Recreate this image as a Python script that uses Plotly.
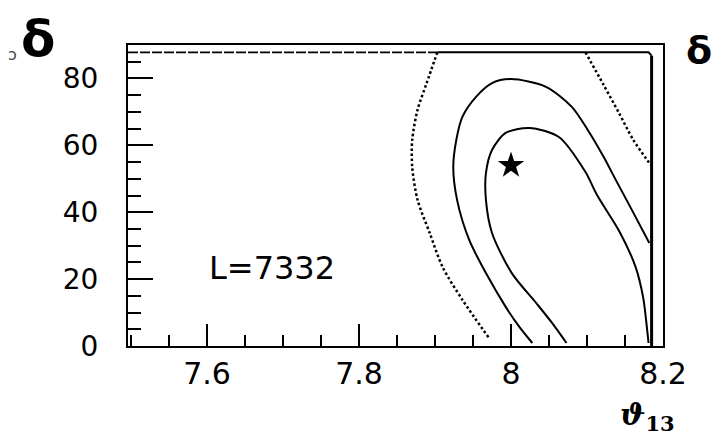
import plotly.graph_objects as go

# Axis ranges and ticks
theta_range = [7.496, 8.2]
delta_range = [0, 90]
theta_ticks = [7.6, 7.8, 8.0, 8.2]
theta_ticklabels = ["7.6", "7.8", "8", "8.2"]
delta_ticks = [0, 20, 40, 60, 80]
delta_ticklabels = ["0", "20", "40", "60", "80"]

# Edge of the scanned grid (contours close along it)
theta_edge = 8.185
delta_edge = 87.8

# Best-fit point
best_theta = [8.0]
best_delta = [54.0]

# Inner confidence contour (solid)
in_theta = [8.073, 8.054, 8.033, 8.001, 7.975, 7.967, 7.967, 7.975, 7.993, 8.024,
            8.063, 8.098, 8.113, 8.143, 8.164, 8.174, 8.178, 8.181]
in_delta = [0.9, 6.9, 12.9, 21.8, 33.8, 43.7, 51.7, 58.6, 63.7, 65.2,
            62.5, 52.0, 45.2, 34.1, 23.6, 14.4, 7.2, 0.9]

# Middle confidence contour (solid)
out_theta = [8.028, 8.011, 7.993, 7.967, 7.945, 7.929, 7.924, 7.928, 7.936, 7.954,
             7.975, 8.0, 8.046, 8.080, 8.101, 8.122, 8.138, 8.159, 8.182]
out_delta = [0.9, 5.7, 11.7, 21.8, 31.7, 43.7, 53.5, 61.6, 68.5, 74.5,
             78.6, 79.8, 77.5, 71.5, 64.6, 56.5, 49.6, 40.7, 30.8]

# Outer confidence contour (dotted), left and right branches
c3l_theta = [7.903, 7.889, 7.877, 7.870, 7.870, 7.877, 7.893, 7.910, 7.936, 7.971]
c3l_delta = [87.8, 78.6, 70.6, 61.6, 53.5, 43.7, 33.8, 23.6, 13.8, 2.4]
c3r_theta = [8.098, 8.122, 8.142, 8.161, 8.184]
c3r_delta = [87.8, 78.0, 69.7, 61.6, 54.1]

FONT = "DejaVu Sans"
BLACK = "black"
DOT = "2.5px,2.5px"

fig = go.Figure()

# grid edge: top (broken part left of the outer contour, solid beyond) and right side
fig.add_trace(go.Scatter(x=[theta_range[0], c3l_theta[0]], y=[delta_edge, delta_edge],
                         mode="lines", line=dict(color=BLACK, width=1.8, dash="10px,2px"),
                         hoverinfo="skip"))
fig.add_trace(go.Scatter(x=[c3l_theta[0], theta_edge - 0.004, theta_edge],
                         y=[delta_edge, delta_edge, delta_edge - 1.0],
                         mode="lines", line=dict(color=BLACK, width=2),
                         hoverinfo="skip"))
fig.add_trace(go.Scatter(x=[theta_edge, theta_edge], y=[delta_edge - 1.0, 0],
                         mode="lines", line=dict(color=BLACK, width=3),
                         hoverinfo="skip"))

# contours
fig.add_trace(go.Scatter(x=c3l_theta, y=c3l_delta, mode="lines",
                         line=dict(color=BLACK, width=2.5, dash=DOT, shape="spline", smoothing=0.8),
                         hoverinfo="skip"))
fig.add_trace(go.Scatter(x=c3r_theta, y=c3r_delta, mode="lines",
                         line=dict(color=BLACK, width=2.5, dash=DOT, shape="spline", smoothing=0.8),
                         hoverinfo="skip"))
fig.add_trace(go.Scatter(x=out_theta, y=out_delta, mode="lines",
                         line=dict(color=BLACK, width=2, shape="spline", smoothing=0.8),
                         hoverinfo="skip"))
fig.add_trace(go.Scatter(x=in_theta, y=in_delta, mode="lines",
                         line=dict(color=BLACK, width=2, shape="spline", smoothing=0.8),
                         hoverinfo="skip"))

# best fit
fig.add_trace(go.Scatter(x=best_theta, y=best_delta, mode="markers",
                         marker=dict(symbol="star", size=20, color=BLACK),
                         hoverinfo="skip"))

fig.update_layout(
    width=717, height=437,
    margin=dict(l=128, r=54, t=45, b=91),
    paper_bgcolor="white", plot_bgcolor="white",
    showlegend=False,
    font=dict(family=FONT, color=BLACK),
    xaxis=dict(
        range=theta_range, showgrid=False, zeroline=False,
        showline=True, linewidth=2, linecolor=BLACK, mirror=True,
        ticks="inside", ticklen=22, tickwidth=2, tickcolor=BLACK,
        tickvals=theta_ticks, ticktext=theta_ticklabels,
        tickfont=dict(family=FONT, size=30, color=BLACK),
        ticklabelstandoff=0,
        minor=dict(dtick=0.05, tick0=7.5, ticks="inside", ticklen=11, tickwidth=2, tickcolor=BLACK),
    ),
    yaxis=dict(
        range=delta_range, showgrid=False, zeroline=False,
        showline=True, linewidth=2, linecolor=BLACK, mirror=True,
        ticks="inside", ticklen=25, tickwidth=2, tickcolor=BLACK,
        tickvals=delta_ticks, ticktext=delta_ticklabels,
        tickfont=dict(family=FONT, size=28, color=BLACK),
        ticklabelstandoff=22,
        minor=dict(dtick=5, tick0=0, ticks="inside", ticklen=13, tickwidth=2, tickcolor=BLACK),
    ),
    annotations=[
        dict(text="L=7332", x=0.269, y=0.259, xref="paper", yref="paper",
             xanchor="center", yanchor="middle",
             showarrow=False, font=dict(family=FONT, size=32, color=BLACK)),
        dict(text="<b>δ</b>", x=-0.168, y=1.02, xref="paper", yref="paper",
             xanchor="center", yanchor="middle",
             showarrow=False, font=dict(family=FONT, size=50, color=BLACK)),
        dict(text="ɔ", x=-0.215, y=0.967, xref="paper", yref="paper",
             xanchor="center", yanchor="middle",
             showarrow=False, font=dict(family=FONT, size=16, color="#444")),
        dict(text="<b>δ</b>", x=1.04, y=0.985, xref="paper", yref="paper",
             xanchor="left", yanchor="middle", showarrow=False,
             font=dict(family=FONT, size=38, color=BLACK)),
        dict(text="<i><b>ϑ</b></i><sub><b>13</b></sub>", x=0.916, y=-0.235, xref="paper", yref="paper",
             xanchor="left", yanchor="middle", showarrow=False,
             font=dict(family="DejaVu Serif", size=30, color=BLACK)),
    ],
)

fig.write_html("out.html")
